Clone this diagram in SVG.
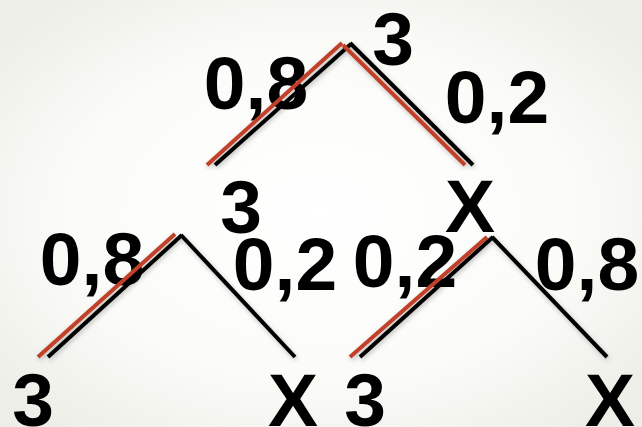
<svg xmlns="http://www.w3.org/2000/svg" width="642" height="427" viewBox="0 0 642 427">
  <defs>
    <radialGradient id="bg" cx="50%" cy="50%" r="65%">
      <stop offset="0" stop-color="#ffffff"/>
      <stop offset="0.6" stop-color="#fbfbf8"/>
      <stop offset="1" stop-color="#eeeee8"/>
    </radialGradient>
    <filter id="sh" x="-10%" y="-10%" width="120%" height="120%">
      <feGaussianBlur in="SourceAlpha" stdDeviation="2.5"/>
      <feOffset dx="1" dy="2" result="b"/>
      <feComponentTransfer><feFuncA type="linear" slope="0.25"/></feComponentTransfer>
      <feMerge><feMergeNode/><feMergeNode in="SourceGraphic"/></feMerge>
    </filter>
  </defs>
  <style>
    .t { font-family: "Liberation Sans", Arial, sans-serif; font-weight: bold; font-size: 75px; fill: #000; text-anchor: middle; }
    .k { stroke: #000; stroke-width: 4; fill: none; stroke-linecap: butt; }
    .r { stroke: #c0402c; stroke-width: 4; fill: none; stroke-linecap: butt; }
  </style>
  <rect width="642" height="427" fill="url(#bg)"/>

  <g id="n-root"><text class="t" x="393" y="65">3</text></g>
  <g id="p-top-left"><text class="t" x="256" y="109">0,8</text></g>
  <g id="p-top-right"><text class="t" x="497" y="123">0,2</text></g>
  <g id="n-mid-3"><text class="t" x="241" y="233">3</text></g>
  <g id="n-mid-x"><text class="t" x="470" y="232">X</text></g>
  <g id="p-l-left"><text class="t" x="92" y="285">0,8</text></g>
  <g id="p-l-right"><text class="t" x="285" y="290">0,2</text></g>
  <g id="p-r-left"><text class="t" x="405" y="287">0,2</text></g>
  <g id="p-r-right"><text class="t" x="587" y="290">0,8</text></g>
  <g id="n-b1"><text class="t" x="33" y="426">3</text></g>
  <g id="n-b2"><text class="t" x="293" y="426">X</text></g>
  <g id="n-b3"><text class="t" x="365" y="426">3</text></g>
  <g id="n-b4"><text class="t" x="610" y="426">X</text></g>

  <g id="connectors" filter="url(#sh)">
    <line class="k" x1="351" y1="44" x2="215" y2="165"/>
    <line class="k" x1="350" y1="43" x2="473" y2="165"/>
    <line class="r" x1="342" y1="43" x2="207" y2="165"/>
    <line class="r" x1="343" y1="45" x2="465" y2="165"/>

    <line class="k" x1="182" y1="235" x2="48" y2="357"/>
    <line class="k" x1="181" y1="235" x2="295" y2="357"/>
    <line class="r" x1="175" y1="234" x2="38" y2="357"/>

    <line class="k" x1="493" y1="237" x2="360" y2="357"/>
    <line class="k" x1="492" y1="237" x2="607" y2="357"/>
    <line class="r" x1="487" y1="237" x2="350" y2="357"/>
  </g>
</svg>
